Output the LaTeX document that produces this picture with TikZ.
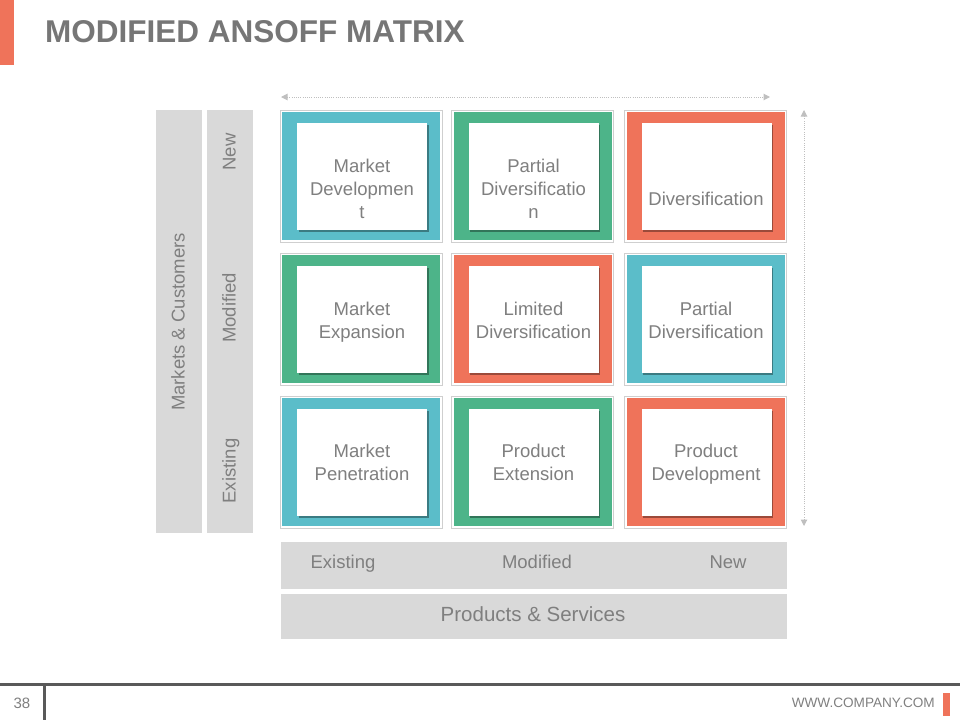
\documentclass[tikz,border=0pt]{standalone}
\usepackage{fontspec}
\setmainfont{Liberation Sans}
\usetikzlibrary{shadows,arrows.meta}
\definecolor{cteal}{HTML}{5BBDC9}
\definecolor{cgreen}{HTML}{4DB489}
\definecolor{corange}{HTML}{EF735A}
\definecolor{txtgray}{HTML}{7F7F7F}
\definecolor{titlegray}{HTML}{767676}
\definecolor{bargray}{HTML}{D9D9D9}
\definecolor{framegray}{HTML}{CFCFCF}
\definecolor{footgray}{HTML}{595959}
\definecolor{arrowgray}{HTML}{BFBFBF}
\newcommand{\nlstrut}{\strut\\}
\tikzset{
  cellframe/.style={draw=framegray, line width=1pt, fill=white, minimum width=162pt, minimum height=132pt, inner sep=0pt, outer sep=0pt},
  colfill/.style={fill=#1, minimum width=158pt, minimum height=128pt, inner sep=0pt},
  innerbox/.style={fill=white, minimum width=130pt, minimum height=107pt, inner sep=0pt,
     drop shadow={shadow xshift=1.5pt, shadow yshift=-2pt, opacity=0.35, fill=black}},
  celltext/.style={text=txtgray, font=\fontsize{18.5}{23}\selectfont, align=center, inner sep=0pt},
  bar/.style={fill=bargray, inner sep=0pt, outer sep=0pt},
  axislabel/.style={text=txtgray, font=\fontsize{18.5}{22}\selectfont, inner sep=0pt, anchor=base},
  dotarrow/.style={draw=arrowgray, line width=1pt, dash pattern=on 1pt off 1.2pt,
     {Triangle[length=6.5pt,width=6.5pt]}-{Triangle[length=6.5pt,width=6.5pt]}},
}
\begin{document}
\begin{tikzpicture}[x=1pt,y=-1pt]
\useasboundingbox (0,0) rectangle (960,720);
% title
\fill[corange] (0,0) rectangle (14,65);
\node[anchor=west, text=titlegray, font=\bfseries\fontsize{31.5}{36}\selectfont, inner sep=0pt] (title) at (45,32) {MODIFIED ANSOFF MATRIX};
% side bars
\node[bar, minimum width=46pt, minimum height=423pt] (mbar) at (179,321.5) {};
\node[bar, minimum width=46pt, minimum height=423pt] (lbar) at (230,321.5) {};
\node[axislabel, rotate=90] (mc) at (184.5,322) {Markets \& Customers};
\node[axislabel, rotate=90] (ynew) at (235.5,152) {New};
\node[axislabel, rotate=90] (ymod) at (235.5,308) {Modified};
\node[axislabel, rotate=90] (yex) at (235.5,471) {Existing};
% bottom bars
\node[bar, minimum width=506pt, minimum height=47pt] (pbar) at (534,565.5) {};
\node[bar, minimum width=506pt, minimum height=45pt] (psbar) at (534,616.5) {};
\node[axislabel] (xex) at (343,568.5) {Existing};
\node[axislabel] (xmod) at (537,568.5) {Modified};
\node[axislabel] (xnew) at (728,568.5) {New};
\node[axislabel, font=\fontsize{20.5}{24}\selectfont] (ps) at (533,621.5) {Products \& Services};
% cells
\foreach \n/\x/\y/\col in {11/361/176/cteal, 12/532.5/176/cgreen, 13/705.5/176/corange,
                            21/361/319/cgreen, 22/532.5/319/corange, 23/705.5/319/cteal,
                            31/361/462/cteal, 32/532.5/462/cgreen, 33/705.5/462/corange}{
  \node[cellframe] (f\n) at (\x,\y) {};
  \node[colfill=\col] (c\n) at (f\n.center) {};
  \node[innerbox] (b\n) at (\x+1,\y) {};
}
\node[celltext] (t11) at (362,191) {Market\nlstrut Developmen\nlstrut t\strut};
\node[celltext] (t12) at (533.5,191) {Partial\nlstrut Diversificatio\nlstrut n\strut};
\node[celltext] (t13) at (706,201) {Diversification\strut};
\node[celltext] (t21) at (362,322.5) {Market\nlstrut Expansion\strut};
\node[celltext] (t22) at (533.5,322.5) {Limited\nlstrut Diversification\strut};
\node[celltext] (t23) at (706,322.5) {Partial\nlstrut Diversification\strut};
\node[celltext] (t31) at (362,464.5) {Market\nlstrut Penetration\strut};
\node[celltext] (t32) at (533.5,464.5) {Product\nlstrut Extension\strut};
\node[celltext] (t33) at (706,464.5) {Product\nlstrut Development\strut};
% dotted arrows
\coordinate (hl) at (281,97);
\coordinate (hr) at (770,97);
\coordinate (vt) at (804,110);
\coordinate (vb) at (804,526);
\draw[dotarrow] (hl) -- (hr);
\draw[dotarrow] (vb) -- (vt);
% footer
\coordinate (fl) at (0,684.5);
\coordinate (fr) at (960,684.5);
\coordinate (vl1) at (44,684.5);
\coordinate (vl2) at (44,720);
\draw[footgray, line width=3pt] (fl) -- (fr);
\draw[footgray, line width=3pt] (vl1) -- (vl2);
\node[text=txtgray, font=\fontsize{15}{17}\selectfont, inner sep=0pt] (pg) at (22,703) {38};
\node[anchor=east, text=txtgray, font=\fontsize{13.6}{15}\selectfont, inner sep=0pt] (url) at (935,703) {WWW.COMPANY.COM};
\fill[corange] (943,693) rectangle (950,716);
\end{tikzpicture}
\end{document}
